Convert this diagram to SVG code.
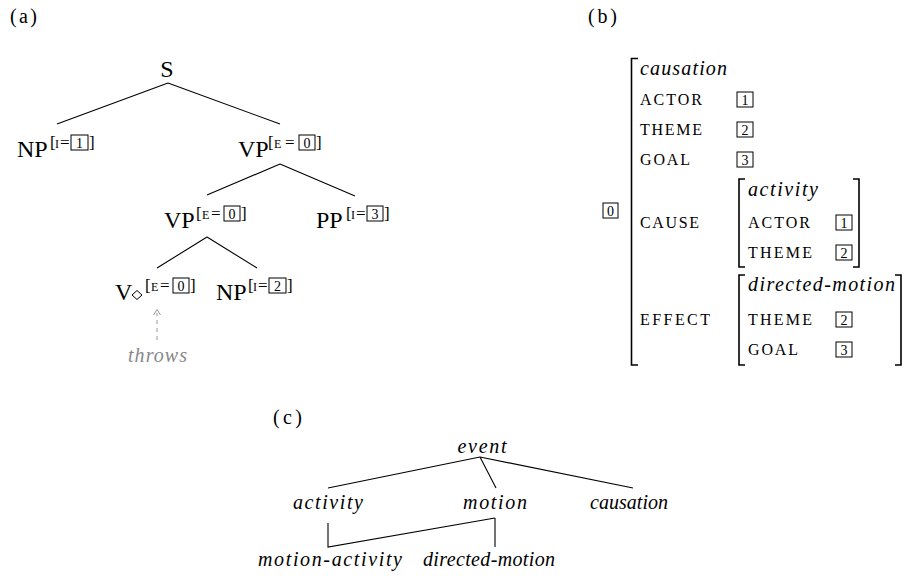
<svg xmlns="http://www.w3.org/2000/svg" width="904" height="576" viewBox="0 0 904 576">
  <style>
    text { font-family: "Liberation Serif", "Times New Roman", "DejaVu Serif", serif; fill: #000; }
    .lbl { font-size: 20px; }
    .cat { font-size: 24px; }
    .it { font-style: italic; font-size: 20px; }
    .sc { font-size: 16px; }
    .sup { font-size: 17px; }
    .supl { font-size: 12px; }
    .dig { font-size: 14px; text-anchor: middle; }
    .box { fill: none; stroke: #000; stroke-width: 1; }
    .ln { fill: none; stroke: #000; stroke-width: 1.1; }
    .br { fill: none; stroke: #000; stroke-width: 1.6; }
    .gray { fill: #888; }
  </style>

  <!-- panel labels -->
  <text class="lbl" x="10" y="23" textLength="27">(a)</text>
  <text class="lbl" x="588" y="23" textLength="29">(b)</text>
  <text class="lbl" x="273" y="424" textLength="29">(c)</text>

  <!-- (a) syntactic tree -->
  <g id="tree-a-edges">
    <path class="ln" d="M168,83 L57,124 M168,83 L280,124"/>
    <path class="ln" d="M280,164 L207,195 M280,164 L355,196"/>
    <path class="ln" d="M207,237 L157,268 M207,237 L257,268"/>
    <path d="M157,340 L157,313" fill="none" stroke="#999" stroke-width="1" stroke-dasharray="4 4"/>
    <path d="M153.5,315 L157,309.5 L160.5,315" fill="none" stroke="#999" stroke-width="1"/>
  </g>

  <g id="node-S">
    <text class="cat" x="167" y="77" text-anchor="middle">S</text>
  </g>

  <g id="node-NP1">
    <text class="cat" x="17" y="157">NP</text>
    <text class="sup" x="50" y="148">[</text>
    <text class="supl" x="55" y="148">I</text>
    <text class="sup" x="60" y="148">=</text>
    <rect class="box" x="71" y="135" width="17" height="15"/>
    <text class="dig" x="79.5" y="148">1</text>
    <text class="sup" x="89" y="148">]</text>
  </g>

  <g id="node-VP1">
    <text class="cat" x="238" y="157">VP</text>
    <text class="sup" x="268" y="148">[</text>
    <text class="supl" x="274" y="148">E</text>
    <text class="sup" x="285" y="148">=</text>
    <rect class="box" x="299" y="135" width="16" height="15"/>
    <text class="dig" x="307" y="148">0</text>
    <text class="sup" x="316" y="148">]</text>
  </g>

  <g id="node-VP2">
    <text class="cat" x="164" y="228">VP</text>
    <text class="sup" x="196" y="219">[</text>
    <text class="supl" x="202" y="219">E</text>
    <text class="sup" x="211" y="219">=</text>
    <rect class="box" x="224" y="206" width="16" height="15"/>
    <text class="dig" x="232" y="219">0</text>
    <text class="sup" x="241" y="219">]</text>
  </g>

  <g id="node-PP">
    <text class="cat" x="316" y="228">PP</text>
    <text class="sup" x="346" y="219">[</text>
    <text class="supl" x="351" y="219">I</text>
    <text class="sup" x="356" y="219">=</text>
    <rect class="box" x="367" y="206" width="16" height="15"/>
    <text class="dig" x="375" y="219">3</text>
    <text class="sup" x="384" y="219">]</text>
  </g>

  <g id="node-V">
    <text class="cat" x="115" y="300">V</text>
    <polygon points="132,295 137,290.5 142,295 137,299.5" fill="none" stroke="#000" stroke-width="1"/>
    <text class="sup" x="145" y="291">[</text>
    <text class="supl" x="151" y="291">E</text>
    <text class="sup" x="160" y="291">=</text>
    <rect class="box" x="173" y="278" width="16" height="15"/>
    <text class="dig" x="181" y="291">0</text>
    <text class="sup" x="190" y="291">]</text>
  </g>

  <g id="node-NP2">
    <text class="cat" x="216" y="300">NP</text>
    <text class="sup" x="248" y="291">[</text>
    <text class="supl" x="253" y="291">I</text>
    <text class="sup" x="258" y="291">=</text>
    <rect class="box" x="269" y="278" width="17" height="15"/>
    <text class="dig" x="277.5" y="291">2</text>
    <text class="sup" x="287" y="291">]</text>
  </g>

  <g id="node-throws">
    <text class="it gray" x="128" y="362" textLength="59">throws</text>
  </g>

  <!-- (b) attribute-value matrix -->
  <g id="avm">
    <rect class="box" x="603" y="203" width="15" height="15"/>
    <text class="dig" x="610.5" y="215.5">0</text>

    <!-- outer bracket -->
    <path class="br" d="M638,58.5 L631.5,58.5 L631.5,365 L638,365"/>

    <text class="it" x="640" y="75" textLength="87">causation</text>
    <text class="sc" x="640" y="105" textLength="62">ACTOR</text>
    <rect class="box" x="737" y="92" width="16" height="15"/>
    <text class="dig" x="745" y="104.5">1</text>
    <text class="sc" x="640" y="135" textLength="62">THEME</text>
    <rect class="box" x="737" y="122" width="16" height="15"/>
    <text class="dig" x="745" y="134.5">2</text>
    <text class="sc" x="640" y="165" textLength="50">GOAL</text>
    <rect class="box" x="737" y="152" width="16" height="15"/>
    <text class="dig" x="745" y="164.5">3</text>

    <!-- cause sub-structure -->
    <text class="sc" x="640" y="228" textLength="59">CAUSE</text>
    <path class="br" d="M745,179 L739,179 L739,267 L745,267"/>
    <path class="br" d="M853,179 L859,179 L859,267 L853,267"/>
    <text class="it" x="748" y="196" textLength="70">activity</text>
    <text class="sc" x="748" y="228" textLength="62">ACTOR</text>
    <rect class="box" x="836" y="215" width="16" height="15"/>
    <text class="dig" x="844" y="227.5">1</text>
    <text class="sc" x="748" y="258" textLength="64">THEME</text>
    <rect class="box" x="836" y="245" width="16" height="15"/>
    <text class="dig" x="844" y="257.5">2</text>

    <!-- effect sub-structure -->
    <text class="sc" x="640" y="325" textLength="70">EFFECT</text>
    <path class="br" d="M745,275 L739,275 L739,365 L745,365"/>
    <path class="br" d="M895,275 L901,275 L901,365 L895,365"/>
    <text class="it" x="748" y="291" textLength="147">directed-motion</text>
    <text class="sc" x="748" y="325" textLength="64">THEME</text>
    <rect class="box" x="836" y="312" width="16" height="15"/>
    <text class="dig" x="844" y="324.5">2</text>
    <text class="sc" x="748" y="355" textLength="50">GOAL</text>
    <rect class="box" x="836" y="342" width="16" height="15"/>
    <text class="dig" x="844" y="354.5">3</text>
  </g>

  <!-- (c) type hierarchy -->
  <g id="tree-c-edges">
    <path class="ln" d="M480,457 L328,488 M480,457 L496,488 M480,457 L633,488"/>
    <path class="ln" d="M328,523 L328,547 L495,518 M495,518 L495,547"/>
  </g>
  <g id="node-event">
    <text class="it" x="482" y="453" text-anchor="middle" textLength="49">event</text>
  </g>
  <g id="node-activity">
    <text class="it" x="293" y="509" textLength="70">activity</text>
  </g>
  <g id="node-motion">
    <text class="it" x="463" y="509" textLength="64">motion</text>
  </g>
  <g id="node-causation">
    <text class="it" x="590" y="509" textLength="78">causation</text>
  </g>
  <g id="node-motion-activity">
    <text class="it" x="258" y="566" textLength="144">motion-activity</text>
  </g>
  <g id="node-directed-motion">
    <text class="it" x="423" y="566" textLength="132">directed-motion</text>
  </g>
</svg>
